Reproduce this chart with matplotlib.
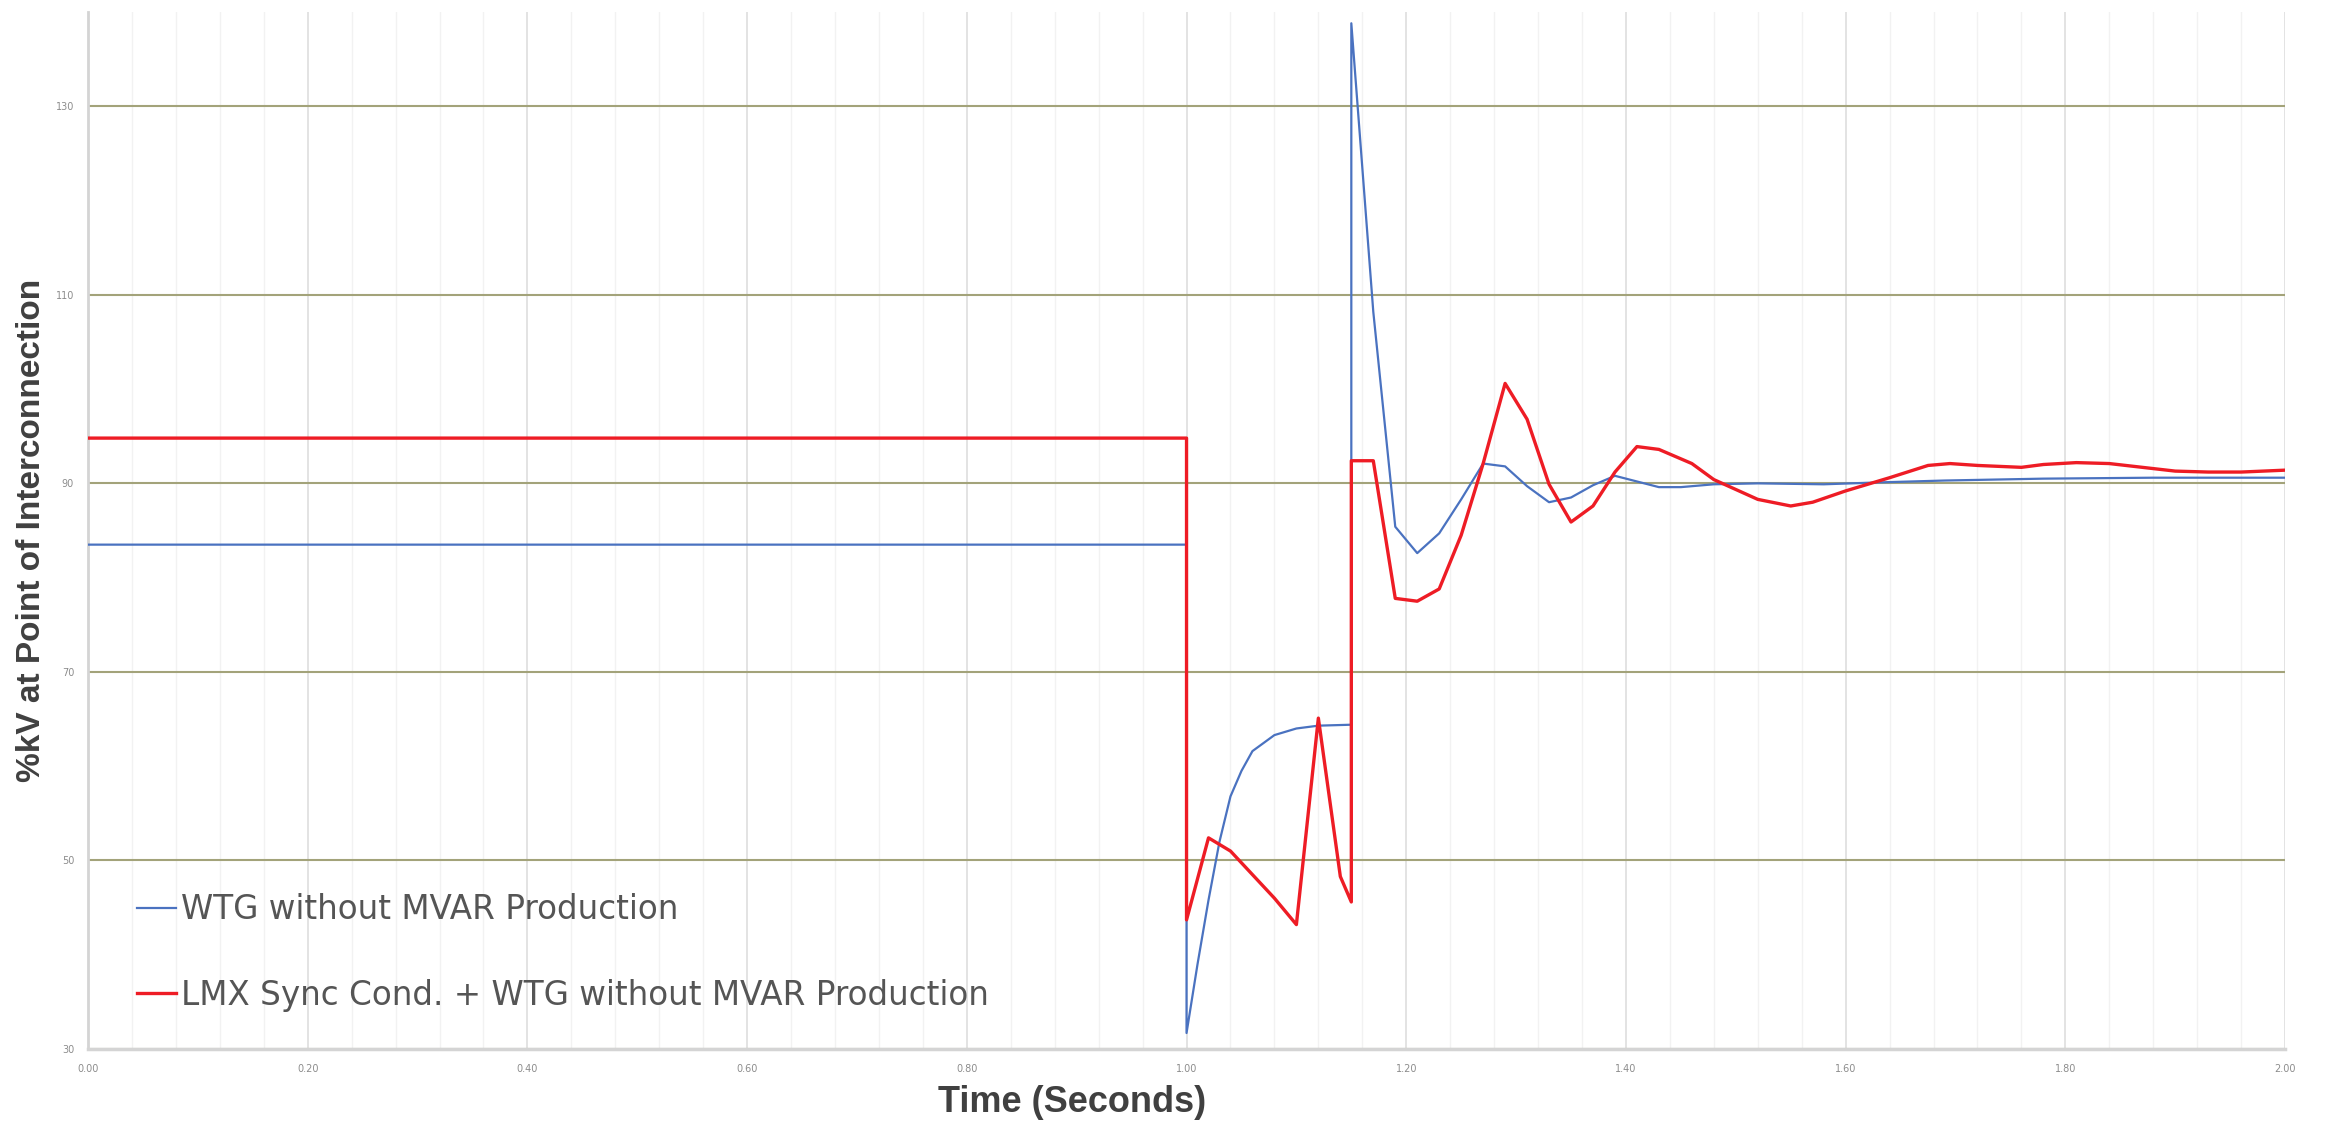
import matplotlib
matplotlib.use('Agg')
import matplotlib.pyplot as plt
from matplotlib.ticker import MultipleLocator, FormatStrFormatter

# WTG without MVAR production
t_wtg = [0.00, 1.00, 1.00, 1.01, 1.02, 1.03, 1.04, 1.05, 1.06, 1.08, 1.10, 1.12, 1.15,
         1.15, 1.17, 1.19, 1.21, 1.23, 1.25, 1.27, 1.29, 1.31, 1.33, 1.35, 1.37, 1.39,
         1.41, 1.43, 1.45, 1.48, 1.52, 1.58, 1.63, 1.69, 1.78, 1.88, 2.00]
v_wtg = [83.5, 83.5, 31.7, 39.0, 45.8, 52.0, 56.8, 59.5, 61.6, 63.3, 64.0, 64.3, 64.4,
         138.8, 108.2, 85.4, 82.6, 84.7, 88.3, 92.1, 91.8, 89.7, 88.0, 88.5, 89.8, 90.8,
         90.2, 89.6, 89.6, 89.9, 90.0, 89.9, 90.1, 90.3, 90.5, 90.6, 90.6]

# LMX sync condenser + WTG without MVAR production
t_lmx = [0.00, 1.00, 1.00, 1.02, 1.04, 1.06, 1.08, 1.10, 1.12, 1.14, 1.15, 1.15, 1.17,
         1.19, 1.21, 1.23, 1.25, 1.27, 1.29, 1.31, 1.33, 1.35, 1.37, 1.39, 1.41, 1.43,
         1.46, 1.48, 1.52, 1.55, 1.57, 1.60, 1.64, 1.675, 1.695, 1.72, 1.76, 1.78, 1.81,
         1.84, 1.87, 1.90, 1.93, 1.96, 2.00]
v_lmx = [94.8, 94.8, 43.7, 52.4, 51.0, 48.5, 46.0, 43.2, 65.1, 48.3, 45.6, 92.4, 92.4,
         77.8, 77.5, 78.8, 84.5, 92.1, 100.6, 96.8, 89.9, 85.9, 87.6, 91.2, 93.9, 93.6,
         92.1, 90.4, 88.3, 87.6, 88.0, 89.2, 90.6, 91.9, 92.1, 91.9, 91.7, 92.0, 92.2,
         92.1, 91.7, 91.3, 91.2, 91.2, 91.4]

labels = ['WTG without MVAR Production', 'LMX Sync Cond. + WTG without MVAR Production']

label_font = ['Liberation Sans Narrow', 'Liberation Sans', 'DejaVu Sans']

fig = plt.figure(figsize=(23.31, 11.28), dpi=100)
ax = fig.add_axes([0.03775, 0.0700, 0.94255, 0.9194])

ax.plot(t_wtg, v_wtg, color='#4a72c0', lw=1.6, label=labels[0], zorder=3)
ax.plot(t_lmx, v_lmx, color='#ee1c25', lw=2.4, label=labels[1], zorder=4)

ax.set_xlim(0, 2.0)
ax.set_ylim(30, 140)
ax.xaxis.set_major_locator(MultipleLocator(0.2))
ax.xaxis.set_minor_locator(MultipleLocator(0.04))
ax.xaxis.set_major_formatter(FormatStrFormatter('%.2f'))
ax.set_yticks([30, 50, 70, 90, 110, 130])

ax.grid(axis='x', which='minor', color='#f2f2f2', lw=1.0)
ax.grid(axis='x', which='major', color='#e0e0e0', lw=1.3)
ax.grid(axis='y', which='major', color='#a3a37a', lw=1.5)
ax.set_axisbelow(True)

ax.tick_params(which='both', length=0)
ax.tick_params(axis='x', labelsize=7, labelcolor='#8c8c8c', pad=11)
ax.tick_params(axis='y', labelsize=7, labelcolor='#8c8c8c', pad=10)

for s in ['top', 'right']:
    ax.spines[s].set_visible(False)
ax.spines['left'].set_color('#d4d4d4')
ax.spines['left'].set_linewidth(2)
ax.spines['bottom'].set_color('#d4d4d4')
ax.spines['bottom'].set_linewidth(2.5)

ax.set_xlabel('Time (Seconds)', family=label_font, fontweight='bold',
              fontsize=26, color='#404040', va='center')
ax.xaxis.set_label_coords(0.448, -0.052)
ax.set_ylabel('%kV at Point of Interconnection', family=label_font, fontweight='bold',
              fontsize=24, color='#404040', va='center')
ax.yaxis.set_label_coords(-0.0255, 0.5)

ax.legend(loc='lower left', bbox_to_anchor=(0.0223, 0.036), frameon=False,
          borderpad=0, borderaxespad=0, handlelength=1.2, handletextpad=0.15,
          labelspacing=1.6, prop={'family': 'DejaVu Sans', 'size': 23.5},
          labelcolor='#555555')

fig.savefig('out.png', dpi=100, facecolor='white')
